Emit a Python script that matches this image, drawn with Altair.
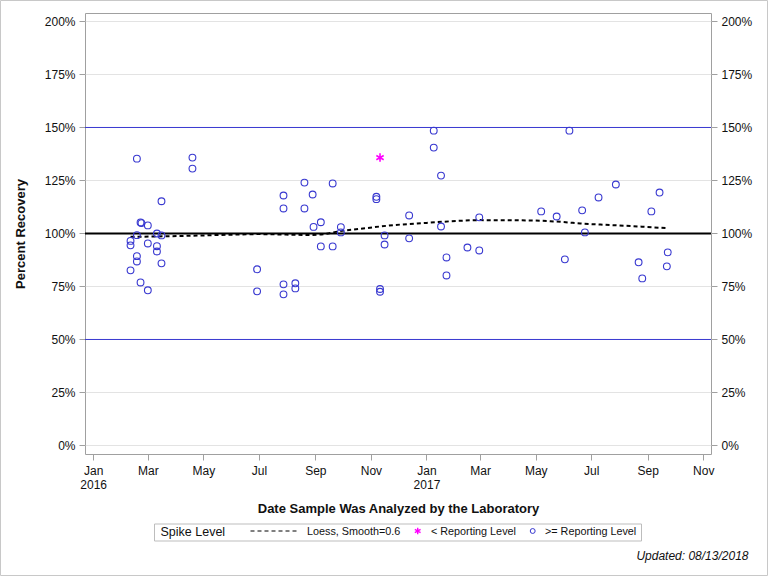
import altair as alt
import pandas as pd

# Samples at or above the reporting level: analysis date and percent recovery
circle_dates = [
    "2016-02-11", "2016-02-11", "2016-02-11",
    "2016-02-18", "2016-02-18", "2016-02-18", "2016-02-18",
    "2016-02-22", "2016-02-23", "2016-02-22",
    "2016-03-01", "2016-03-01", "2016-03-01",
    "2016-03-11", "2016-03-11", "2016-03-11",
    "2016-03-16", "2016-03-16", "2016-03-16",
    "2016-04-19", "2016-04-19",
    "2016-06-29", "2016-06-29",
    "2016-07-28", "2016-07-28", "2016-07-28", "2016-07-28",
    "2016-08-10", "2016-08-10",
    "2016-08-20", "2016-08-20",
    "2016-08-29", "2016-08-30",
    "2016-09-07", "2016-09-07",
    "2016-09-20", "2016-09-20",
    "2016-09-29", "2016-09-29",
    "2016-11-07", "2016-11-07",
    "2016-11-11", "2016-11-11",
    "2016-11-16", "2016-11-16",
    "2016-12-13", "2016-12-13",
    "2017-01-09", "2017-01-09",
    "2017-01-17", "2017-01-17",
    "2017-01-23", "2017-01-23",
    "2017-02-15",
    "2017-02-28", "2017-02-28",
    "2017-05-07", "2017-05-24", "2017-06-02", "2017-06-07",
    "2017-06-21", "2017-06-24", "2017-07-09", "2017-07-28",
    "2017-08-22", "2017-08-26", "2017-09-05", "2017-09-14",
    "2017-09-22", "2017-09-23",
]
circle_pct = [
    96.5, 94.4, 82.6,
    135.3, 99.2, 89.3, 86.8,
    105.2, 104.9, 76.9,
    103.8, 95.3, 73.2,
    100.0, 94.0, 91.5,
    115.2, 99.1, 85.9,
    135.8, 130.6,
    83.1, 72.7,
    117.9, 111.8, 76.0, 71.3,
    76.5, 74.1,
    124.0, 111.8,
    118.4, 103.1,
    105.3, 93.9,
    123.6, 93.9,
    103.0, 100.5,
    117.3, 116.2,
    73.8, 72.5,
    99.1, 94.8,
    108.5, 97.7,
    148.5, 140.5,
    127.3, 103.3,
    88.7, 80.2,
    93.4,
    107.6, 92.0,
    110.4, 108.0, 87.8, 148.5,
    110.9, 100.5, 117.0, 123.1,
    86.4, 78.8, 110.4, 119.3,
    84.5, 91.1,
]

# Sample below the reporting level
star_dates = ["2016-11-11"]
star_pct = [135.8]

# Loess fit (smoothing parameter 0.6)
loess_dates = [
    "2016-02-11", "2016-03-11", "2016-04-05", "2016-06-17", "2016-06-30",
    "2016-08-26", "2016-09-12", "2016-09-28", "2016-10-20", "2016-11-25",
    "2017-01-01", "2017-02-07", "2017-02-28", "2017-04-16", "2017-05-17",
    "2017-06-03", "2017-06-19", "2017-07-11", "2017-08-13", "2017-09-22",
]
loess_pct = [
    98.4, 98.6, 98.8, 99.6, 99.7,
    99.3, 99.8, 101.1, 102.2, 103.9,
    105.0, 106.0, 106.3, 106.2, 105.8,
    105.3, 104.7, 104.2, 103.5, 102.5,
]

spike_level = [100]
control_limits = [50, 150]
y_ticks = [0, 25, 50, 75, 100, 125, 150, 175, 200]
x_tick_dates = [
    "2016-01-01", "2016-03-01", "2016-05-01", "2016-07-01", "2016-09-01", "2016-11-01",
    "2017-01-01", "2017-03-01", "2017-05-01", "2017-07-01", "2017-09-01", "2017-11-01",
]
legend_labels = ["Spike Level", "Loess, Smooth=0.6", "< Reporting Level", ">= Reporting Level"]
footnote = "Updated: 08/13/2018"

FONT = "Liberation Sans"
BLUE = "#3838d0"
MAGENTA = "#ff00ff"
FRAME = "#a0a0a0"
TEXT = "#111111"
ASTERISK = "M0,-1L0,1M-0.866,-0.5L0.866,0.5M-0.866,0.5L0.866,-0.5"

W, H = 626, 441


def as_dt(s, **extra):
    y, m, d = (int(v) for v in s.split("-"))
    return alt.DateTime(year=y, month=m, date=d, **extra)


def local(dates):
    return [d + "T00:00:00" for d in dates]


circles = pd.DataFrame({"date": local(circle_dates), "pct": circle_pct})
stars = pd.DataFrame({"date": local(star_dates), "pct": star_pct})
loess = pd.DataFrame({"date": local(loess_dates), "pct": loess_pct})
limits = pd.DataFrame({"level": control_limits})
spike = pd.DataFrame({"level": spike_level})
one = pd.DataFrame({"k": [0]})

# 2.12 px per percent point; domain chosen so the reference lines fall on pixel centres
y_scale = alt.Scale(domain=[-4.02, 204.0], nice=False, zero=False)
x_scale = alt.Scale(domain=[as_dt("2015-12-23"), as_dt("2017-11-09", hours=12)], nice=False)

x_enc = alt.X(
    "date:T",
    scale=x_scale,
    title="Date Sample Was Analyzed by the Laboratory",
    axis=alt.Axis(
        values=[as_dt(s) for s in x_tick_dates],
        labelExpr="month(datum.value) == 0 ? [timeFormat(datum.value, '%b'), timeFormat(datum.value, '%Y')] : timeFormat(datum.value, '%b')",
        labelLineHeight=14,
        labelAngle=0,
        labelPadding=5,
        tickSize=6,
        tickColor=FRAME,
        domain=False,
        grid=False,
        labelFontSize=12,
        labelColor=TEXT,
        titleFontSize=13,
        titleFontWeight="bold",
        titleColor=TEXT,
        titleX=313,
        titleY=58,
        titleBaseline="alphabetic",
        titleAlign="center",
    ),
)

left_axis = alt.Axis(
    values=y_ticks,
    labelExpr="datum.value + '%'",
    grid=True,
    gridColor="#e3e3e3",
    tickSize=6,
    tickColor=FRAME,
    labelPadding=4,
    domain=False,
    labelFontSize=12,
    labelColor=TEXT,
    titleFontSize=13,
    titleFontWeight="bold",
    titleColor=TEXT,
    titleX=-60.5,
    titleY=H / 2,
    titleAngle=270,
    titleBaseline="alphabetic",
    titleAlign="center",
)

right_axis = alt.Axis(
    orient="right",
    values=y_ticks,
    labelExpr="datum.value + '%'",
    grid=False,
    tickSize=6,
    tickColor=FRAME,
    labelPadding=4,
    domain=False,
    labelFontSize=12,
    labelColor=TEXT,
    title=None,
)

limit_rules = alt.Chart(limits).mark_rule(color=BLUE, strokeWidth=1).encode(
    y=alt.Y("level:Q", scale=y_scale, axis=left_axis, title="Percent Recovery")
)
spike_rule = alt.Chart(spike).mark_rule(color="#000000", strokeWidth=2).encode(
    y=alt.Y("level:Q", scale=y_scale, axis=left_axis, title="Percent Recovery")
)
loess_line = alt.Chart(loess).mark_line(
    color="#000000", strokeWidth=2, strokeDash=[4, 3], interpolate="monotone"
).encode(
    x=x_enc,
    y=alt.Y("pct:Q", scale=y_scale, axis=left_axis, title="Percent Recovery"),
)
circle_pts = alt.Chart(circles).mark_point(
    shape="circle", filled=False, size=46, strokeWidth=1.1, color=BLUE, opacity=1
).encode(
    x=x_enc,
    y=alt.Y("pct:Q", scale=y_scale, axis=left_axis, title="Percent Recovery"),
)
star_pts = alt.Chart(stars).mark_point(
    shape=ASTERISK, filled=False, size=72, strokeWidth=1.6, color=MAGENTA, opacity=1
).encode(
    x=x_enc,
    y=alt.Y("pct:Q", scale=y_scale, axis=left_axis, title="Percent Recovery"),
)

plot = alt.layer(limit_rules, spike_rule, loess_line, circle_pts, star_pts)

right_ticks = alt.Chart(spike).mark_rule(opacity=0).encode(
    y=alt.Y("level:Q", scale=y_scale, axis=right_axis)
)

# Legend box below the plot, positioned in pixels relative to the plot area
legend_box = alt.Chart(one).mark_rect(
    fillOpacity=0, stroke="#bdbdbd", strokeWidth=1
).encode(x=alt.value(69.5), x2=alt.value(556.5), y=alt.value(511), y2=alt.value(528))
legend_title = alt.Chart(one).mark_text(
    text=legend_labels[0], font=FONT, fontSize=12.5, color=TEXT, align="left", baseline="middle"
).encode(x=alt.value(75.5), y=alt.value(519))
legend_dash = alt.Chart(one).mark_rule(
    color="#000000", strokeWidth=1, strokeDash=[4, 3]
).encode(x=alt.value(165.5), x2=alt.value(211.5), y=alt.value(518))
legend_loess = alt.Chart(one).mark_text(
    text=legend_labels[1], font=FONT, fontSize=10.8, color=TEXT, align="left", baseline="middle"
).encode(x=alt.value(222), y=alt.value(518.5))
legend_star = alt.Chart(one).mark_point(
    shape=ASTERISK, filled=False, size=44, strokeWidth=1.4, color=MAGENTA, opacity=1
).encode(x=alt.value(332.7), y=alt.value(518))
legend_below = alt.Chart(one).mark_text(
    text=legend_labels[2], font=FONT, fontSize=10.8, color=TEXT, align="left", baseline="middle"
).encode(x=alt.value(346), y=alt.value(518.5))
legend_circle = alt.Chart(one).mark_point(
    shape="circle", filled=False, size=24, strokeWidth=1, color=BLUE, opacity=1
).encode(x=alt.value(447.7), y=alt.value(518))
legend_above = alt.Chart(one).mark_text(
    text=legend_labels[3], font=FONT, fontSize=10.8, color=TEXT, align="left", baseline="middle"
).encode(x=alt.value(460), y=alt.value(518.5))

updated = alt.Chart(one).mark_text(
    text=footnote, font=FONT, fontSize=12, fontStyle="italic", color=TEXT,
    align="right", baseline="middle"
).encode(x=alt.value(663.5), y=alt.value(543))

outer_border = alt.Chart(one).mark_rect(
    fillOpacity=0, stroke="#c8c8c8", strokeWidth=1
).encode(x=alt.value(-84.5), x2=alt.value(682.5), y=alt.value(-12.5), y2=alt.value(562.5))

chart = (
    alt.layer(
        plot, right_ticks,
        legend_box, legend_title, legend_dash, legend_loess, legend_star,
        legend_below, legend_circle, legend_above, updated, outer_border,
    )
    .resolve_scale(y="independent")
    .properties(
        width=W,
        height=H,
        autosize=alt.AutoSizeParams(type="none"),
        padding={"left": 85, "top": 13, "right": 57, "bottom": 122},
        background="white",
    )
    .configure(font=FONT)
    .configure_view(stroke=FRAME, strokeWidth=1)
    .configure_axis(labelFont=FONT, titleFont=FONT)
)

chart.save("out.html", embed_options={"renderer": "svg", "actions": False})
